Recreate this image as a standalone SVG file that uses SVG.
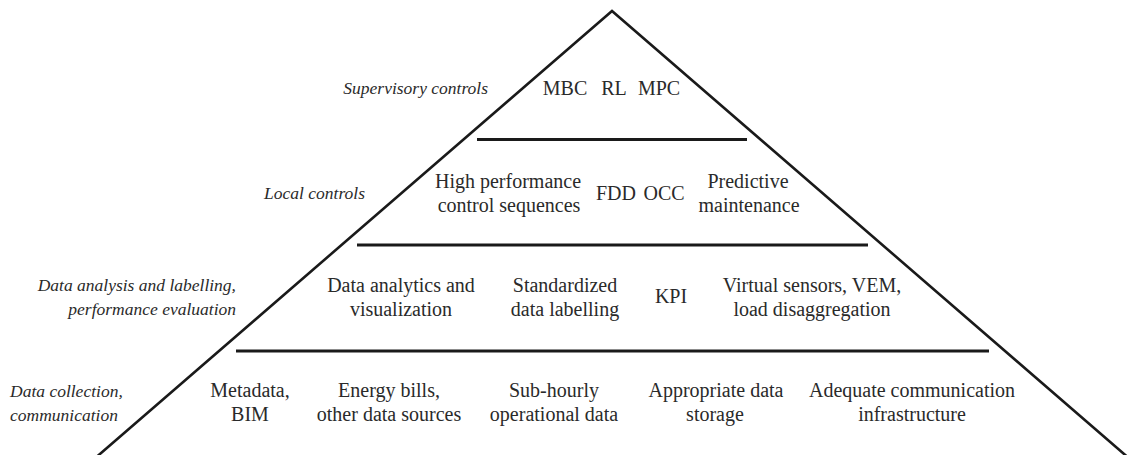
<svg xmlns="http://www.w3.org/2000/svg" width="1128" height="455" viewBox="0 0 1128 455">
  <defs>
    <style>
      .edge { fill: none; stroke: #1a1a1a; stroke-width: 2.6; }
      .tier { fill: none; stroke: #1a1a1a; stroke-width: 3.2; }
    </style>
  </defs>
  <rect width="1128" height="455" fill="#ffffff"/>

  <!-- pyramid outline and tier separators -->
  <g id="connectors">
    <polyline class="edge" points="93,460 612,11 1131,460"/>
    <line class="tier" x1="477" y1="139.5" x2="747" y2="139.5"/>
    <line class="tier" x1="357" y1="245" x2="868" y2="245"/>
    <line class="tier" x1="236" y1="351" x2="989" y2="351"/>
  </g>

  <!-- tier 1: supervisory controls -->
  <g id="level-supervisory">
    <text x="488" y="94" text-anchor="end" font-family="Liberation Serif" font-style="italic" font-size="17.5" fill="#2a2a2a">Supervisory controls</text>
  </g>
  <g id="node-mbc"><text x="565" y="95" text-anchor="middle" font-family="Liberation Serif" font-size="20" fill="#2a2a2a">MBC</text></g>
  <g id="node-rl"><text x="614" y="95" text-anchor="middle" font-family="Liberation Serif" font-size="20" fill="#2a2a2a">RL</text></g>
  <g id="node-mpc"><text x="659" y="95" text-anchor="middle" font-family="Liberation Serif" font-size="20" fill="#2a2a2a">MPC</text></g>

  <!-- tier 2: local controls -->
  <g id="level-local">
    <text x="365" y="199" text-anchor="end" font-family="Liberation Serif" font-style="italic" font-size="17.5" fill="#2a2a2a">Local controls</text>
  </g>
  <g id="node-sequences">
    <text x="508" y="188" text-anchor="middle" font-family="Liberation Serif" font-size="20" fill="#2a2a2a">High performance</text>
    <text x="509" y="212" text-anchor="middle" font-family="Liberation Serif" font-size="20" fill="#2a2a2a">control sequences</text>
  </g>
  <g id="node-fdd"><text x="616" y="200" text-anchor="middle" font-family="Liberation Serif" font-size="20" fill="#2a2a2a">FDD</text></g>
  <g id="node-occ"><text x="664" y="200" text-anchor="middle" font-family="Liberation Serif" font-size="20" fill="#2a2a2a">OCC</text></g>
  <g id="node-maintenance">
    <text x="748" y="188" text-anchor="middle" font-family="Liberation Serif" font-size="20" fill="#2a2a2a">Predictive</text>
    <text x="749" y="212" text-anchor="middle" font-family="Liberation Serif" font-size="20" fill="#2a2a2a">maintenance</text>
  </g>

  <!-- tier 3: data analysis -->
  <g id="level-analysis">
    <text x="236" y="291" text-anchor="end" font-family="Liberation Serif" font-style="italic" font-size="17.5" fill="#2a2a2a">Data analysis and labelling,</text>
    <text x="236" y="315" text-anchor="end" font-family="Liberation Serif" font-style="italic" font-size="17.5" fill="#2a2a2a">performance evaluation</text>
  </g>
  <g id="node-analytics">
    <text x="401" y="292" text-anchor="middle" font-family="Liberation Serif" font-size="20" fill="#2a2a2a">Data analytics and</text>
    <text x="401" y="316" text-anchor="middle" font-family="Liberation Serif" font-size="20" fill="#2a2a2a">visualization</text>
  </g>
  <g id="node-labelling">
    <text x="565" y="292" text-anchor="middle" font-family="Liberation Serif" font-size="20" fill="#2a2a2a">Standardized</text>
    <text x="565" y="316" text-anchor="middle" font-family="Liberation Serif" font-size="20" fill="#2a2a2a">data labelling</text>
  </g>
  <g id="node-kpi"><text x="671" y="303" text-anchor="middle" font-family="Liberation Serif" font-size="20" fill="#2a2a2a">KPI</text></g>
  <g id="node-virtual">
    <text x="812" y="292" text-anchor="middle" font-family="Liberation Serif" font-size="20" fill="#2a2a2a">Virtual sensors, VEM,</text>
    <text x="812" y="316" text-anchor="middle" font-family="Liberation Serif" font-size="20" fill="#2a2a2a">load disaggregation</text>
  </g>

  <!-- tier 4: data collection -->
  <g id="level-collection">
    <text x="10" y="397" font-family="Liberation Serif" font-style="italic" font-size="17.5" fill="#2a2a2a">Data collection,</text>
    <text x="10" y="421" font-family="Liberation Serif" font-style="italic" font-size="17.5" fill="#2a2a2a">communication</text>
  </g>
  <g id="node-metadata">
    <text x="250" y="397" text-anchor="middle" font-family="Liberation Serif" font-size="20" fill="#2a2a2a">Metadata,</text>
    <text x="250" y="421" text-anchor="middle" font-family="Liberation Serif" font-size="20" fill="#2a2a2a">BIM</text>
  </g>
  <g id="node-bills">
    <text x="389" y="397" text-anchor="middle" font-family="Liberation Serif" font-size="20" fill="#2a2a2a">Energy bills,</text>
    <text x="389" y="421" text-anchor="middle" font-family="Liberation Serif" font-size="20" fill="#2a2a2a">other data sources</text>
  </g>
  <g id="node-subhourly">
    <text x="554" y="397" text-anchor="middle" font-family="Liberation Serif" font-size="20" fill="#2a2a2a">Sub-hourly</text>
    <text x="554" y="421" text-anchor="middle" font-family="Liberation Serif" font-size="20" fill="#2a2a2a">operational data</text>
  </g>
  <g id="node-storage">
    <text x="716" y="397" text-anchor="middle" font-family="Liberation Serif" font-size="20" fill="#2a2a2a">Appropriate data</text>
    <text x="715" y="421" text-anchor="middle" font-family="Liberation Serif" font-size="20" fill="#2a2a2a">storage</text>
  </g>
  <g id="node-infrastructure">
    <text x="912" y="397" text-anchor="middle" font-family="Liberation Serif" font-size="20" fill="#2a2a2a">Adequate communication</text>
    <text x="912" y="421" text-anchor="middle" font-family="Liberation Serif" font-size="20" fill="#2a2a2a">infrastructure</text>
  </g>
</svg>
